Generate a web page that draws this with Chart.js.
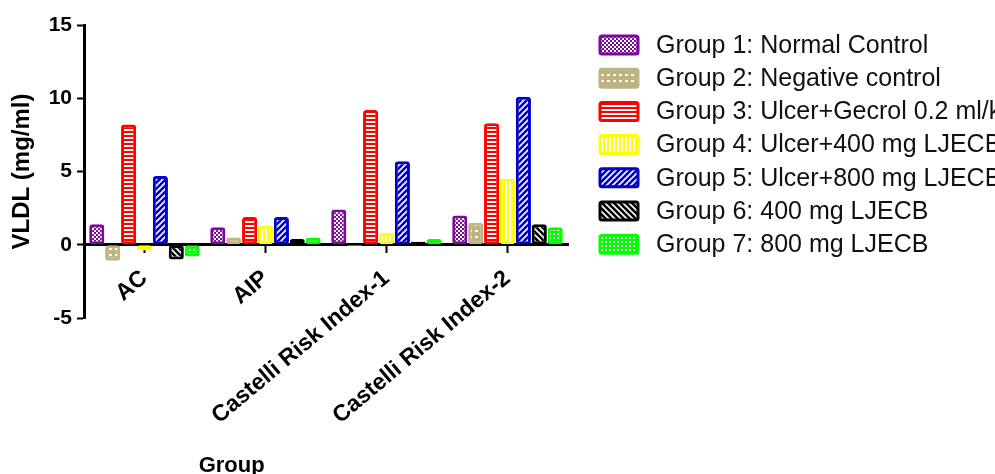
<!DOCTYPE html>
<html>
<head>
<meta charset="utf-8">
<script src="https://cdn.jsdelivr.net/npm/chart.js@4.4.1/dist/chart.umd.min.js"></script>
<style>
  html, body { margin: 0; padding: 0; background: #fff; }
  #wrap { width: 995px; height: 474px; overflow: hidden; }
</style>
</head>
<body>
<div id="wrap"><canvas id="chart" width="995" height="474"></canvas></div>
<script>
const categories = ["AC", "AIP", "Castelli Risk Index-1", "Castelli Risk Index-2"];
const groupNames = [
  "Group 1: Normal Control",
  "Group 2: Negative control",
  "Group 3: Ulcer+Gecrol 0.2 ml/kg",
  "Group 4: Ulcer+400 mg LJECB",
  "Group 5: Ulcer+800 mg LJECB",
  "Group 6: 400 mg LJECB",
  "Group 7: 800 mg LJECB"
];
const group1 = [1.4, 1.2, 2.4, 2.0];
const group2 = [-1.1, 0.5, -0.1, 1.5];
const group3 = [8.2, 1.9, 9.2, 8.3];
const group4 = [-0.4, 1.3, 0.8, 4.5];
const group5 = [4.7, 1.9, 5.7, 10.1];
const group6 = [-1.0, 0.4, 0.2, 1.4];
const group7 = [-0.8, 0.5, 0.4, 1.2];
const yTicks = [-5, 0, 5, 10, 15];

const FONT = "'Liberation Sans', Arial, sans-serif";

// small tiles for the white hatch fills
function tile(size, color, paint) {
  const c = document.createElement("canvas");
  c.width = size; c.height = size;
  const g = c.getContext("2d");
  g.fillStyle = color;
  g.fillRect(0, 0, size, size);
  g.fillStyle = "#fff";
  g.strokeStyle = "#fff";
  paint(g, size);
  return document.getElementById("chart").getContext("2d").createPattern(c, "repeat");
}

const colors = ["#7b0a9c", "#bdb383", "#ff0000", "#ffff00", "#0000c8", "#000000", "#00ff00"];
const patterns = [
  tile(4, colors[0], (g) => { g.fillRect(0, 0, 2, 2); g.fillRect(2, 2, 2, 2); }),
  tile(6, colors[1], (g) => { g.fillRect(1, 2, 3, 2); }),
  tile(4, colors[2], (g) => { g.fillRect(0, 1, 4, 2); }),
  tile(4, colors[3], (g) => { g.fillRect(1, 0, 2, 4); }),
  tile(6, colors[4], (g) => {
    g.lineWidth = 1.6;
    g.beginPath(); g.moveTo(-1, 7); g.lineTo(7, -1); g.stroke();
    g.beginPath(); g.moveTo(-1, 1); g.lineTo(1, -1); g.stroke();
    g.beginPath(); g.moveTo(5, 7); g.lineTo(7, 5); g.stroke();
  }),
  tile(6, colors[5], (g) => {
    g.lineWidth = 1.6;
    g.beginPath(); g.moveTo(-1, -1); g.lineTo(7, 7); g.stroke();
    g.beginPath(); g.moveTo(5, -1); g.lineTo(7, 1); g.stroke();
    g.beginPath(); g.moveTo(-1, 5); g.lineTo(1, 7); g.stroke();
  }),
  tile(4, colors[6], (g) => { g.fillRect(1, 1, 2, 2); })
];

const series = [group1, group2, group3, group4, group5, group6, group7];
const datasets = series.map((vals, i) => ({
  label: groupNames[i],
  data: vals,
  backgroundColor: patterns[i],
  borderColor: colors[i],
  borderWidth: 3,
  borderRadius: 3,
  borderSkipped: false,
  categoryPercentage: 0.92,
  barPercentage: 0.95
}));

const legendPlugin = {
  id: "sideLegend",
  afterDraw(chart) {
    const ctx = chart.ctx;
    ctx.save();
    chart.data.datasets.forEach((ds, i) => {
      const cy = 45 + i * 33.2;
      ctx.beginPath();
      ctx.roundRect(600, cy - 9, 38, 18, 2);
      ctx.fillStyle = ds.backgroundColor;
      ctx.fill();
      ctx.lineWidth = 3;
      ctx.strokeStyle = ds.borderColor;
      ctx.stroke();
      ctx.fillStyle = "#111";
      ctx.font = "25px " + FONT;
      ctx.textBaseline = "middle";
      ctx.textAlign = "left";
      ctx.fillText(ds.label, 656, cy + 1);
    });
    // x axis title
    const area = chart.chartArea;
    ctx.font = "bold 22px " + FONT;
    ctx.fillStyle = "#000";
    ctx.textAlign = "center";
    ctx.textBaseline = "top";
    ctx.fillText("Group", area.left + (area.right - area.left) * 0.305, 455);
    ctx.restore();
  }
};

new Chart(document.getElementById("chart"), {
  type: "bar",
  data: { labels: categories, datasets: datasets },
  options: {
    responsive: false,
    animation: false,
    layout: { padding: { top: 25, right: 427, bottom: 156, left: 0 } },
    plugins: { legend: { display: false }, tooltip: { enabled: false } },
    scales: {
      x: {
        position: { y: 0 },
        z: 1,
        afterFit: (s) => { s.height = 0; },
        grid: { display: true, drawOnChartArea: false, offset: false, tickLength: 7, tickColor: "#000", tickWidth: 2 },
        border: { display: true, color: "#000", width: 3 },
        ticks: {
          autoSkip: false, minRotation: 40, maxRotation: 40, padding: 13,
          color: "#000", font: { family: FONT, size: 23, weight: "bold" }
        }
      },
      y: {
        min: -5, max: 15,
        afterFit: (s) => { s.width = 84; },
        afterBuildTicks: (s) => { s.ticks = yTicks.map((v) => ({ value: v })); },
        grid: { display: true, drawOnChartArea: false, tickLength: 7, tickColor: "#000", tickWidth: 2 },
        border: { display: true, color: "#000", width: 3 },
        ticks: { padding: 5, color: "#000", font: { family: FONT, size: 21, weight: "bold" } },
        title: {
          display: true, text: "VLDL (mg/ml)", color: "#000",
          padding: { top: 8, bottom: 0 },
          font: { family: FONT, size: 24, weight: "bold" }
        }
      }
    }
  },
  plugins: [legendPlugin]
});
</script>
</body>
</html>
